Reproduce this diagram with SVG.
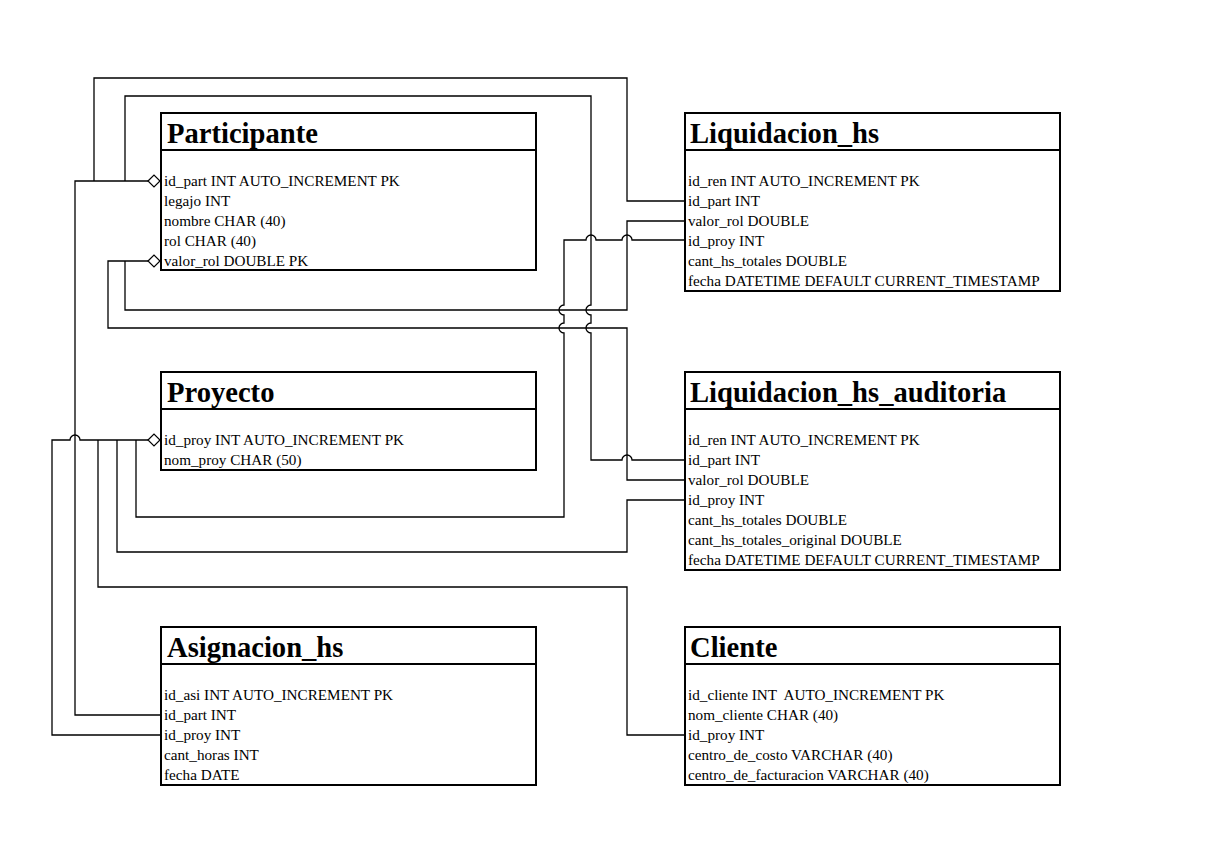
<svg xmlns="http://www.w3.org/2000/svg" width="1210" height="848" viewBox="0 0 1210 848">
<style>
.box{fill:#fff;stroke:#000;stroke-width:2}
.div{stroke:#000;stroke-width:2}
.title{font-family:"Liberation Serif","Times New Roman",serif;font-weight:bold;font-size:28.6px;fill:#000}
.row{font-family:"Liberation Serif","Times New Roman",serif;font-size:15.2px;fill:#000}
.c{fill:none;stroke:#000;stroke-width:1.3}
.dia{fill:#fff;stroke:#000;stroke-width:1.2}
</style>
<rect width="1210" height="848" fill="#fff"/>
<g id="connectors">
<path class="c" d="M148,181 H75 V715 H161"/>
<path class="c" d="M94,181 V78 H627 V201 H685"/>
<path class="c" d="M125,181 V96 H591 V305 A5,5 0 0 0 591,315 V323 A5,5 0 0 0 591,333 V460 H622 A5,5 0 0 1 632,460 H685"/>
<path class="c" d="M148,261 H108 V328 H627 V480 H685"/>
<path class="c" d="M125,261 V310 H627 V221 H685"/>
<path class="c" d="M148,440 H80 A5,5 0 0 0 70,440 H52 V735 H161"/>
<path class="c" d="M98,440 V587 H627 V735 H685"/>
<path class="c" d="M117,440 V552 H627 V500 H685"/>
<path class="c" d="M136,440 V517 H564 V333 A5,5 0 0 1 564,323 V315 A5,5 0 0 1 564,305 V240 H586 A5,5 0 0 1 596,240 H622 A5,5 0 0 1 632,240 H685"/>
</g>
<g id="Participante">
<rect class="box" x="161" y="113" width="375" height="157"/>
<line class="div" x1="161" y1="150" x2="536" y2="150"/>
<text class="title" x="167" y="143">Participante</text>
<text class="row" x="164" y="186">id_part INT AUTO_INCREMENT PK</text>
<text class="row" x="164" y="206">legajo INT</text>
<text class="row" x="164" y="226">nombre CHAR (40)</text>
<text class="row" x="164" y="246">rol CHAR (40)</text>
<text class="row" x="164" y="266">valor_rol DOUBLE PK</text>
<polygon class="dia" points="148,181 154,175 160,181 154,187"/>
<polygon class="dia" points="148,261 154,255 160,261 154,267"/>
</g>
<g id="Liquidacion_hs">
<rect class="box" x="685" y="113" width="375" height="178"/>
<line class="div" x1="685" y1="150" x2="1060" y2="150"/>
<text class="title" x="690" y="143">Liquidacion_hs</text>
<text class="row" x="688" y="186">id_ren INT AUTO_INCREMENT PK</text>
<text class="row" x="688" y="206">id_part INT</text>
<text class="row" x="688" y="226">valor_rol DOUBLE</text>
<text class="row" x="688" y="246">id_proy INT</text>
<text class="row" x="688" y="266">cant_hs_totales DOUBLE</text>
<text class="row" x="688" y="286">fecha DATETIME DEFAULT CURRENT_TIMESTAMP</text>
</g>
<g id="Proyecto">
<rect class="box" x="161" y="372" width="375" height="98"/>
<line class="div" x1="161" y1="409" x2="536" y2="409"/>
<text class="title" x="167" y="402">Proyecto</text>
<text class="row" x="164" y="445">id_proy INT AUTO_INCREMENT PK</text>
<text class="row" x="164" y="465">nom_proy CHAR (50)</text>
<polygon class="dia" points="148,440 154,434 160,440 154,446"/>
</g>
<g id="Liquidacion_hs_auditoria">
<rect class="box" x="685" y="372" width="375" height="198"/>
<line class="div" x1="685" y1="409" x2="1060" y2="409"/>
<text class="title" x="690" y="402">Liquidacion_hs_auditoria</text>
<text class="row" x="688" y="445">id_ren INT AUTO_INCREMENT PK</text>
<text class="row" x="688" y="465">id_part INT</text>
<text class="row" x="688" y="485">valor_rol DOUBLE</text>
<text class="row" x="688" y="505">id_proy INT</text>
<text class="row" x="688" y="525">cant_hs_totales DOUBLE</text>
<text class="row" x="688" y="545">cant_hs_totales_original DOUBLE</text>
<text class="row" x="688" y="565">fecha DATETIME DEFAULT CURRENT_TIMESTAMP</text>
</g>
<g id="Asignacion_hs">
<rect class="box" x="161" y="627" width="375" height="158"/>
<line class="div" x1="161" y1="664" x2="536" y2="664"/>
<text class="title" x="167" y="657">Asignacion_hs</text>
<text class="row" x="164" y="700">id_asi INT AUTO_INCREMENT PK</text>
<text class="row" x="164" y="720">id_part INT</text>
<text class="row" x="164" y="740">id_proy INT</text>
<text class="row" x="164" y="760">cant_horas INT</text>
<text class="row" x="164" y="780">fecha DATE</text>
</g>
<g id="Cliente">
<rect class="box" x="685" y="627" width="375" height="158"/>
<line class="div" x1="685" y1="664" x2="1060" y2="664"/>
<text class="title" x="690" y="657">Cliente</text>
<text class="row" x="688" y="700" xml:space="preserve">id_cliente INT  AUTO_INCREMENT PK</text>
<text class="row" x="688" y="720">nom_cliente CHAR (40)</text>
<text class="row" x="688" y="740">id_proy INT</text>
<text class="row" x="688" y="760">centro_de_costo VARCHAR (40)</text>
<text class="row" x="688" y="780">centro_de_facturacion VARCHAR (40)</text>
</g>
</svg>
